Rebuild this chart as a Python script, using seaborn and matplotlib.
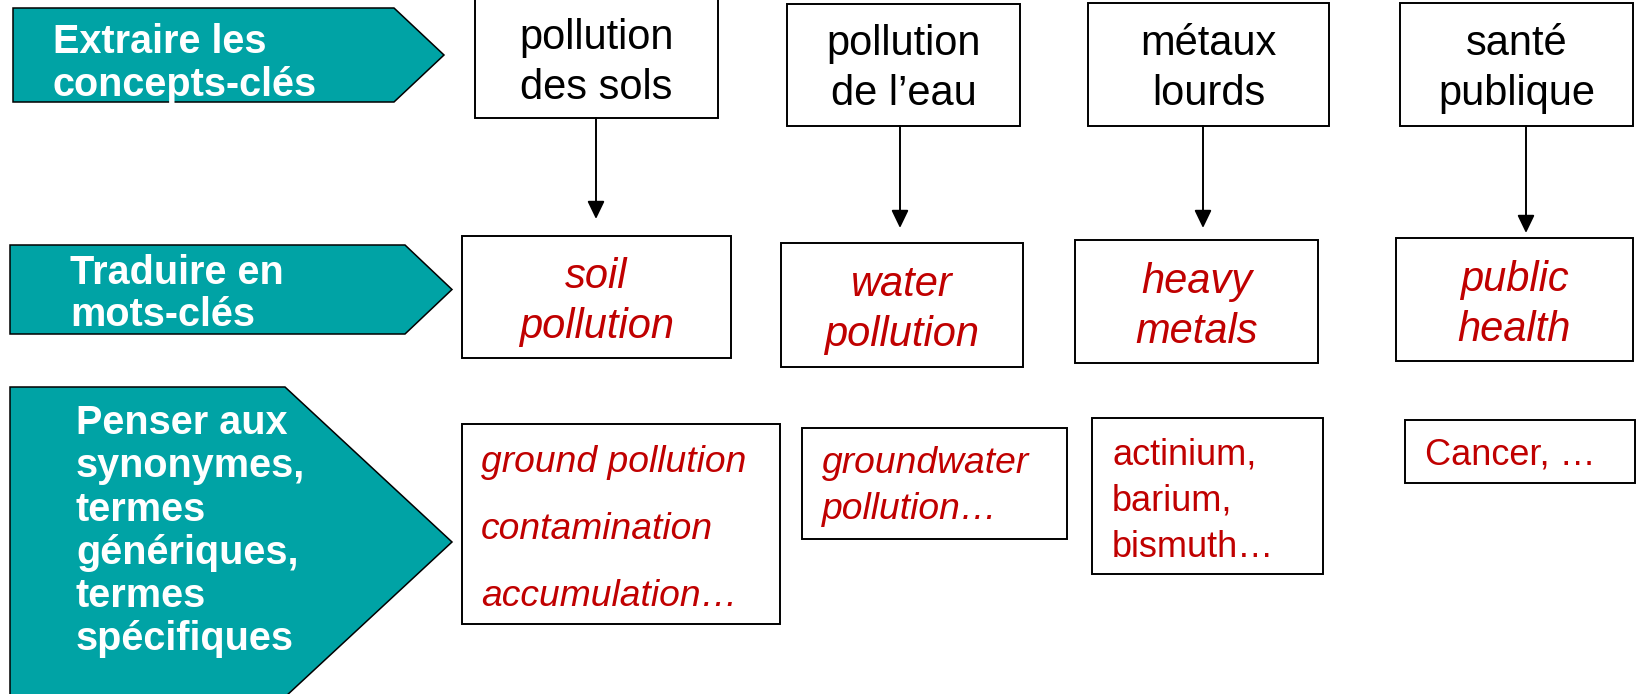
import matplotlib
matplotlib.use("Agg")
import matplotlib.pyplot as plt
from matplotlib.patches import Polygon, Rectangle
import seaborn as sns

# ---------------- data (text content) ----------------
steps = [
    ["Extraire les", "concepts-clés"],
    ["Traduire en", "mots-clés"],
    ["Penser aux", "synonymes,", "termes", "génériques,", "termes", "spécifiques"],
]
concepts = [["pollution", "des sols"], ["pollution", "de l’eau"],
            ["métaux", "lourds"], ["santé", "publique"]]
keywords = [["soil", "pollution"], ["water", "pollution"],
            ["heavy", "metals"], ["public", "health"]]
synonyms = [["ground pollution", "contamination", "accumulation…"],
            ["groundwater", "pollution…"],
            ["actinium,", "barium,", "bismuth…"],
            ["Cancer, …"]]
synonym_italic = [True, True, False, False]

# ---------------- layout (pixels) ----------------
W, H = 1637, 694
TEAL = "#00A3A5"
RED = "#C00000"

# chevron shapes: left, top, bottom, shoulder x, tip x
chevrons = [(13, 8, 102, 394, 444), (10, 245, 334, 405, 452), (10, 387, 697, 285, 452)]
chev_text = [(53, 53, 42.5), (70, 284, 41.5), (76, 434, 43.3)]  # x, first baseline, spacing

top_boxes = [(475, -1, 718, 118), (787, 4, 1020, 126), (1088, 3, 1329, 126), (1400, 3, 1633, 126)]
mid_boxes = [(462, 236, 731, 358), (781, 243, 1023, 367), (1075, 240, 1318, 363), (1396, 238, 1633, 361)]
bot_boxes = [(462, 424, 780, 624), (802, 428, 1067, 539), (1092, 418, 1323, 574), (1405, 420, 1635, 483)]
bot_text = [(481, 472, 67), (822, 473, 46), (1112, 464, 46.5), (1425, 464, 45)]
connectors = [(596, 118, 219), (900, 126, 228), (1203, 126, 228), (1526, 126, 233)]

sns.set_theme(style="white")
plt.rcParams["font.family"] = ["Liberation Sans", "DejaVu Sans"]

fig = plt.figure(figsize=(W / 100, H / 100), dpi=100)
ax = fig.add_axes([0, 0, 1, 1])
ax.set_xlim(0, W)
ax.set_ylim(H, 0)
ax.axis("off")

# chevrons + step labels
for (l, t, b, s, tip), lines, (tx, ty, dy) in zip(chevrons, steps, chev_text):
    poly = Polygon([(l, t), (s, t), (tip, (t + b) / 2), (s, b), (l, b)], closed=True,
                   facecolor=TEAL, edgecolor="black", linewidth=1.1, zorder=1)
    ax.add_patch(poly)
    for i, line in enumerate(lines):
        ax.text(tx, ty + i * dy, line, color="white", fontsize=28.5, fontweight="bold",
                ha="left", va="baseline", zorder=2)


def draw_box(box):
    x0, y0, x1, y1 = box
    ax.add_patch(Rectangle((x0, y0), x1 - x0, y1 - y0, facecolor="white",
                           edgecolor="black", linewidth=1.4, zorder=1))


# top concept boxes
for box, lines in zip(top_boxes, concepts):
    draw_box(box)
    cx = (box[0] + box[2]) / 2
    cy = (box[1] + box[3]) / 2
    for i, line in enumerate(lines):
        ax.text(cx, cy - 10 + i * 50, line, color="black", fontsize=30,
                ha="center", va="baseline", zorder=2)

# keyword boxes
for box, lines in zip(mid_boxes, keywords):
    draw_box(box)
    cx = (box[0] + box[2]) / 2
    cy = (box[1] + box[3]) / 2
    for i, line in enumerate(lines):
        ax.text(cx, cy - 9 + i * 50, line, color=RED, fontsize=30, style="italic",
                ha="center", va="baseline", zorder=2)

# synonym boxes
for box, lines, (tx, ty, dy), ital in zip(bot_boxes, synonyms, bot_text, synonym_italic):
    draw_box(box)
    for i, line in enumerate(lines):
        ax.text(tx, ty + i * dy, line, color=RED, fontsize=26.8 if ital else 26,
                style="italic" if ital else "normal",
                ha="left", va="baseline", zorder=2)

# connectors
for x, y0, y1 in connectors:
    ax.annotate("", xy=(x, y1), xytext=(x, y0),
                arrowprops=dict(arrowstyle="-|>,head_length=1.08,head_width=0.52",
                                mutation_scale=10, color="black", lw=1.4,
                                shrinkA=0, shrinkB=0), zorder=3)

fig.savefig("out.png", dpi=100, facecolor="white")
